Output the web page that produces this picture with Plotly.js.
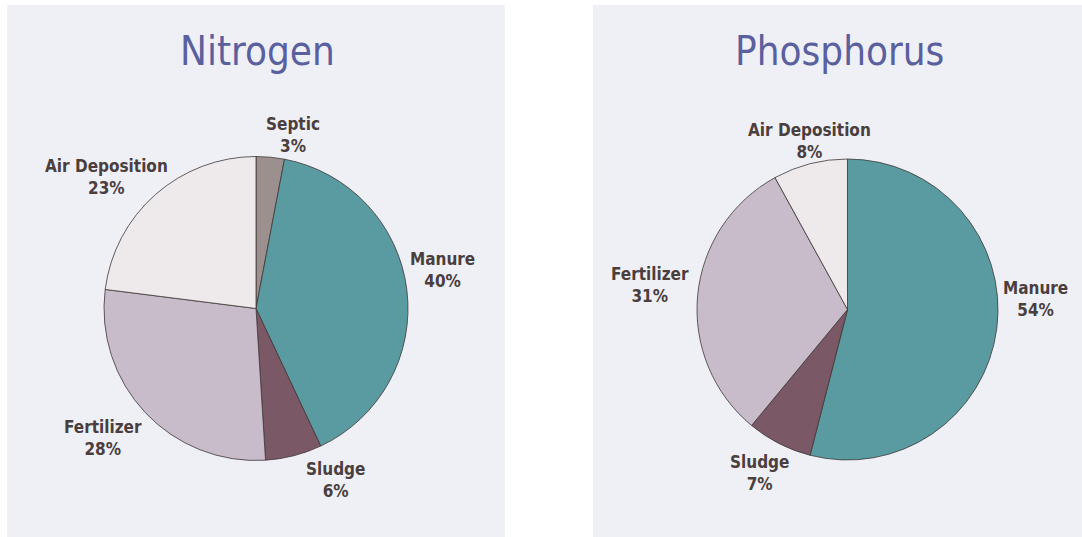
<!DOCTYPE html>
<html>
<head>
<meta charset="utf-8">
<script src="https://cdn.plot.ly/plotly-3.0.1.min.js"></script>
<style>html,body{margin:0;padding:0;background:#fff;}#chart{width:1082px;height:537px;}</style>
</head>
<body>
<div id="chart"></div>
<script>
// Data
const nitrogenLabels = ["Septic", "Manure", "Sludge", "Fertilizer", "Air Deposition"];
const nitrogenValues = [3, 40, 6, 28, 23];
const phosphorusLabels = ["Manure", "Sludge", "Fertilizer", "Air Deposition"];
const phosphorusValues = [54, 7, 31, 8];
const panelTitles = ["Nitrogen", "Phosphorus"];

// Label placement (pixel centres), styles kept separate from data
const nitrogenLabelPos = [[293, 135], [442, 270], [335, 480], [103, 438], [106, 177]];
const phosphorusLabelPos = [[1035, 299], [759, 473], [650, 285], [809, 141]];

const sliceColors = {
  "Septic": "#9b908d",
  "Manure": "#5a9ba1",
  "Sludge": "#7b5866",
  "Fertilizer": "#c8bccb",
  "Air Deposition": "#eeeaeb"
};

const FONT = "DejaVu Sans Condensed, Liberation Sans Narrow, sans-serif";
const labelFont = {family: FONT, size: 17, color: "#4a3e3e"};
const W = 1082, H = 537;
function px(x){return x / W;}
function py(y){return 1 - y / H;}

function pieTrace(labels, values, cx, cy, r){
  return {
    type: "pie",
    labels: labels,
    values: values,
    sort: false,
    direction: "clockwise",
    rotation: 0,
    marker: {colors: labels.map(l => sliceColors[l]), line: {color: "#3e3636", width: 0.8}},
    textinfo: "none",
    hoverinfo: "label+value",
    showlegend: false,
    automargin: false,
    domain: {x: [px(cx - r), px(cx + r)], y: [py(cy + r), py(cy - r)]}
  };
}

function sliceLabels(labels, values, pos){
  return labels.map((l, i) => ({
    text: "<b>" + l + "</b><br><b>" + values[i] + "%</b>",
    xref: "paper", yref: "paper",
    x: px(pos[i][0]), y: py(pos[i][1]),
    xanchor: "center", yanchor: "middle",
    showarrow: false, font: labelFont, align: "center"
  }));
}

const data = [
  pieTrace(nitrogenLabels, nitrogenValues, 256, 308.5, 152),
  pieTrace(phosphorusLabels, phosphorusValues, 847.5, 309.5, 150.5)
];

const titleFont = {family: FONT, size: 40, color: "#5a5f9e"};

const layout = {
  width: W, height: H,
  margin: {l: 0, r: 0, t: 0, b: 0},
  paper_bgcolor: "#ffffff",
  showlegend: false,
  shapes: [
    {type: "rect", xref: "paper", yref: "paper", x0: px(7), x1: px(505), y0: 0, y1: py(5), fillcolor: "#eff0f6", line: {width: 0}, layer: "below"},
    {type: "rect", xref: "paper", yref: "paper", x0: px(593), x1: 1, y0: 0, y1: py(5), fillcolor: "#eff0f6", line: {width: 0}, layer: "below"}
  ],
  annotations: [
    {text: panelTitles[0], xref: "paper", yref: "paper", x: px(257), y: py(51), xanchor: "center", yanchor: "middle", showarrow: false, font: titleFont},
    {text: panelTitles[1], xref: "paper", yref: "paper", x: px(839), y: py(51), xanchor: "center", yanchor: "middle", showarrow: false, font: titleFont}
  ].concat(sliceLabels(nitrogenLabels, nitrogenValues, nitrogenLabelPos))
   .concat(sliceLabels(phosphorusLabels, phosphorusValues, phosphorusLabelPos))
};

Plotly.newPlot("chart", data, layout, {displayModeBar: false, staticPlot: true});
</script>
</body>
</html>
